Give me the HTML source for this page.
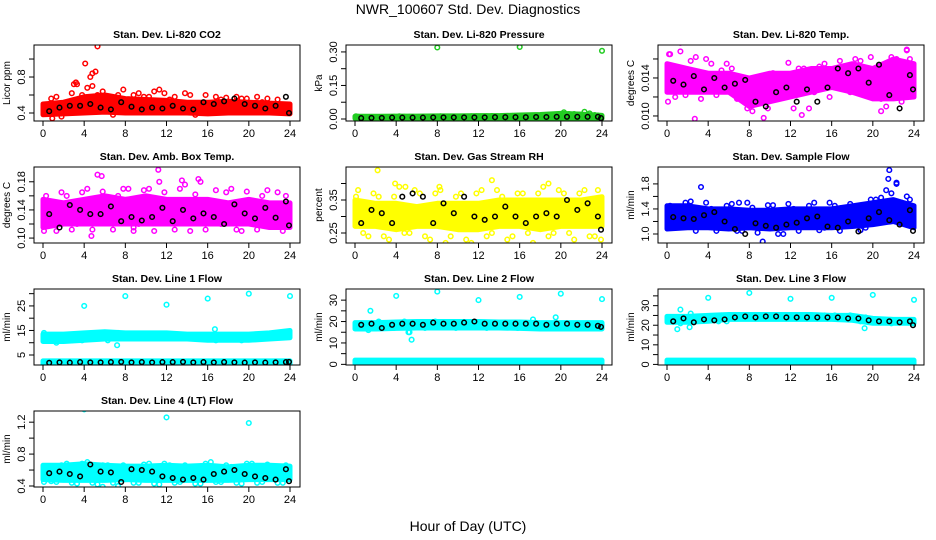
<!DOCTYPE html>
<html><head><meta charset="utf-8">
<style>
html,body{margin:0;padding:0;background:#fff;}
svg{display:block;font-family:"Liberation Sans",Arial,sans-serif;}
</style></head>
<body>
<svg id="chart" width="936" height="540" viewBox="0 0 936 540" xmlns="http://www.w3.org/2000/svg">
<rect width="936" height="540" fill="#fff"/>
<text x="468" y="14" text-anchor="middle" font-size="14">NWR_100607  Std. Dev. Diagnostics</text>
<text x="468" y="531" text-anchor="middle" font-size="14">Hour of Day (UTC)</text>
</svg>
<script>
const bandHours = [0,2,4,6,8,10,12,14,16,18,20,22,24];
const colorHours = [0.3,1.3,2.3,3.3,4.3,5.3,6.3,7.3,8.3,9.3,10.3,11.3,12.3,13.3,14.3,15.3,16.3,17.3,18.3,19.3,20.3,21.3,22.3,23.3,23.9];
const colorHours2 = [0.8,1.8,2.8,3.8,4.8,5.8,6.8,7.8,8.8,9.8,10.8,11.8,12.8,13.8,14.8,15.8,16.8,17.8,18.8,19.8,20.8,21.8,22.8,23.6,0.1];
const blackHours = [0.6,1.6,2.6,3.6,4.6,5.6,6.6,7.6,8.6,9.6,10.6,11.6,12.6,13.6,14.6,15.6,16.6,17.6,18.6,19.6,20.6,21.6,22.6,23.6,23.9];
const xTicks = [0,4,8,12,16,20,24];

// 1 CO2
const co2Lo = [0.38,0.39,0.40,0.41,0.40,0.40,0.40,0.40,0.39,0.40,0.40,0.40,0.39];
const co2Hi = [0.50,0.52,0.58,0.60,0.56,0.55,0.54,0.52,0.52,0.53,0.52,0.51,0.50];
const co2Pts = [0.45,0.58,0.50,0.72,0.68,0.60,0.55,0.60,0.48,0.62,0.58,0.66,0.55,0.50,0.60,0.45,0.44,0.55,0.50,0.56,0.46,0.52,0.50,0.48,0.44];
const co2Pts2 = [0.56,0.36,0.62,0.60,0.70,0.64,0.38,0.66,0.60,0.58,0.64,0.62,0.58,0.62,0.38,0.60,0.58,0.57,0.58,0.56,0.58,0.56,0.55,0.40,0.42];
const co2OutX = [5.3,4.1,4.8,5.1,3.2,0.9,4.6,3.0];
const co2OutY = [1.14,0.95,0.84,0.86,0.74,0.34,0.80,0.72];
const co2Black = [0.42,0.46,0.48,0.48,0.50,0.46,0.44,0.52,0.47,0.44,0.46,0.45,0.48,0.45,0.44,0.52,0.50,0.53,0.56,0.50,0.48,0.45,0.48,0.58,0.40];
// 2 Pressure
const presLo = [0.002,0.002,0.002,0.002,0.002,0.002,0.002,0.002,0.002,0.003,0.003,0.003,0.002];
const presHi = [0.012,0.012,0.013,0.013,0.014,0.014,0.015,0.015,0.018,0.020,0.025,0.022,0.016];
const presPts = [0.010,0.006,0.008,0.009,0.012,0.010,0.008,0.011,0.012,0.009,0.010,0.012,0.011,0.013,0.012,0.014,0.015,0.014,0.016,0.018,0.030,0.022,0.032,0.018,0.010];
const presPts2 = [0.008,0.008,0.009,0.010,0.010,0.009,0.010,0.011,0.010,0.011,0.011,0.012,0.012,0.012,0.013,0.014,0.014,0.014,0.015,0.020,0.022,0.020,0.025,0.015,0.012];
const presOutX = [8.0,16.0,24.0];
const presOutY = [0.320,0.322,0.305];
const presBlack = [0.004,0.005,0.005,0.006,0.006,0.006,0.006,0.007,0.007,0.007,0.007,0.007,0.007,0.008,0.008,0.008,0.008,0.009,0.009,0.010,0.010,0.010,0.010,0.010,0.004];
// 3 Li-820 Temp
const tempLo = [0.0125,0.0125,0.0125,0.0125,0.0110,0.0115,0.0120,0.0125,0.0130,0.0125,0.0118,0.0118,0.0120];
const tempHi = [0.0155,0.0150,0.0145,0.0145,0.0140,0.0145,0.0145,0.0150,0.0150,0.0155,0.0150,0.0160,0.0155];
const tempPts = [0.0165,0.0168,0.0158,0.0118,0.0155,0.0148,0.0150,0.0120,0.0105,0.0132,0.0145,0.0120,0.0108,0.0150,0.0125,0.0155,0.0142,0.0150,0.0160,0.0128,0.0148,0.0110,0.0160,0.0170,0.0135];
const tempPts2 = [0.0120,0.0122,0.0162,0.0160,0.0122,0.0155,0.0118,0.0108,0.0128,0.0108,0.0122,0.0156,0.0150,0.0108,0.0152,0.0120,0.0158,0.0125,0.0158,0.0162,0.0118,0.0162,0.0115,0.0160,0.0115];
const tempOutX = [1.3,2.7,9.4,13.1,23.3,0.2,20.8];
const tempOutY = [0.0177,0.0097,0.0098,0.0101,0.0169,0.0165,0.0105];
const tempBlack = [0.0137,0.0133,0.0142,0.0128,0.0140,0.0130,0.0134,0.0138,0.0115,0.0110,0.0125,0.0130,0.0115,0.0128,0.0115,0.0130,0.0150,0.0145,0.0150,0.0135,0.0154,0.0122,0.0108,0.0143,0.0128];
// 4 Amb Box Temp
const ambLo = [0.115,0.120,0.120,0.120,0.120,0.120,0.120,0.120,0.120,0.120,0.120,0.115,0.115];
const ambHi = [0.155,0.150,0.155,0.160,0.155,0.160,0.155,0.155,0.155,0.150,0.155,0.150,0.150];
const ambPts = [0.160,0.110,0.160,0.120,0.170,0.190,0.130,0.160,0.170,0.120,0.170,0.180,0.150,0.170,0.110,0.180,0.140,0.120,0.170,0.110,0.150,0.160,0.120,0.110,0.130];
const ambPts2 = [0.120,0.165,0.112,0.165,0.112,0.166,0.112,0.170,0.115,0.168,0.110,0.165,0.112,0.176,0.162,0.112,0.168,0.165,0.112,0.166,0.112,0.168,0.165,0.160,0.110];
const ambOutX = [4.7,11.2,8.8,5.7,13.5,15.1];
const ambOutY = [0.103,0.197,0.110,0.188,0.182,0.184];
const ambBlack = [0.134,0.115,0.147,0.140,0.134,0.134,0.145,0.124,0.130,0.125,0.130,0.143,0.124,0.140,0.128,0.135,0.130,0.120,0.148,0.135,0.128,0.143,0.129,0.152,0.118];
// 5 Gas Stream RH
const rhLo = [0.27,0.27,0.26,0.27,0.27,0.26,0.26,0.27,0.27,0.26,0.27,0.27,0.27];
const rhHi = [0.35,0.34,0.34,0.33,0.34,0.34,0.34,0.35,0.35,0.35,0.35,0.35,0.36];
const rhPts = [0.38,0.24,0.36,0.23,0.39,0.25,0.37,0.23,0.38,0.24,0.37,0.22,0.38,0.25,0.36,0.24,0.37,0.22,0.39,0.25,0.37,0.23,0.38,0.24,0.23];
const rhPts2 = [0.25,0.37,0.24,0.36,0.25,0.38,0.24,0.37,0.22,0.36,0.23,0.37,0.24,0.38,0.23,0.37,0.25,0.37,0.24,0.38,0.25,0.37,0.24,0.38,0.36];
const rhOutX = [2.2,3.9,13.3,18.8,8.2,4.9];
const rhOutY = [0.44,0.40,0.41,0.40,0.39,0.39];
const rhBlack = [0.28,0.32,0.31,0.28,0.36,0.37,0.36,0.28,0.34,0.31,0.36,0.30,0.29,0.30,0.33,0.30,0.28,0.30,0.31,0.30,0.35,0.32,0.34,0.30,0.26];
// 6 Sample Flow
const sfLo = [1.08,1.10,1.10,1.08,1.10,1.08,1.10,1.10,1.10,1.12,1.15,1.20,1.10];
const sfHi = [1.45,1.45,1.40,1.40,1.38,1.38,1.40,1.40,1.40,1.45,1.50,1.55,1.45];
const sfPts = [1.45,1.30,1.52,1.20,1.40,1.25,1.48,1.05,1.42,1.15,1.46,1.00,1.40,1.18,1.50,1.10,1.45,1.30,1.40,1.10,1.55,1.70,1.80,1.60,1.20];
const sfPts2 = [1.15,1.50,1.05,1.50,1.05,1.45,1.05,1.50,1.02,1.46,1.00,1.48,1.05,1.45,1.06,1.50,1.05,1.48,1.06,1.55,1.58,1.65,1.50,1.55,1.40];
const sfOutX = [21.6,21.5,3.3,9.3,22.3,7.0];
const sfOutY = [2.02,1.88,1.75,0.88,1.82,1.50];
const sfBlack = [1.27,1.25,1.24,1.30,1.35,1.20,1.08,1.00,1.17,1.13,1.10,1.15,1.18,1.25,1.28,1.12,1.10,1.20,1.04,1.25,1.35,1.22,1.15,1.38,1.05];
// 7 Line 1 Flow
const l1Lo = [10.5,10.5,11.0,11.5,11.5,11.5,11.5,11.5,11.0,11.0,11.0,11.5,12.0];
const l1Hi = [13.5,13.5,14.0,14.5,14.0,14.0,14.0,13.5,13.5,13.5,13.5,14.0,15.0];
const l1Low2Lo = [0.9,0.9,0.9,0.9,0.9,0.9,0.9,0.9,0.9,0.9,0.9,0.9,0.9];
const l1Low2Hi = [2.6,2.6,2.6,2.6,2.6,2.6,2.6,2.6,2.6,2.6,2.6,2.6,2.6];
const l1Pts = [12,11,12,13,12,12,11,14,12,12,13,13,12,12,13,12,12,12,12,11,13,13,12,14,13];
const l1Pts2 = [13,12,11,12,13,13,12,13,13,12,12,12,13,13,12,13,11,13,12,12,12,12,13,13,14];
const l1OutX = [4,8,12,16,20,24,1.3,7.2,16.7,3.8];
const l1OutY = [25,29,25.5,28,30,29,10,9,15.5,11];
const l1Black = [1.8,2.0,1.9,2.1,2.0,2.0,2.1,2.2,2.0,2.1,2.0,2.1,2.1,2.2,2.0,2.1,2.0,2.1,2.0,1.9,2.0,1.9,2.0,2.1,2.2];
// 8 Line 2 Flow
const l2Lo = [16.5,16.5,16.8,17.0,17.0,17.0,17.0,17.0,16.8,16.5,16.5,16.5,16.5];
const l2Hi = [19.5,19.5,19.8,20.0,20.0,20.0,20.0,19.8,19.8,19.5,19.5,19.5,19.5];
const l2Low2Lo = [0.4,0.4,0.4,0.4,0.4,0.4,0.4,0.4,0.4,0.4,0.4,0.4,0.4];
const l2Low2Hi = [2.0,2.0,2.0,2.0,2.0,2.0,2.0,2.0,2.0,2.0,2.0,2.0,2.0];
const l2Pts = [17,16,20,19,18,15,18,19,18,19,19,18,19,18,18,19,19,21,19,18,19,18,18,19,17];
const l2Pts2 = [18,17,18,17,20,18,17,20,18,17,18,19,17,18,19,17,18,17,18,17,17,18,17,18,18];
const l2OutX = [1.5,4,8,12,16,20,24,5.5,5.2,19.5];
const l2OutY = [25,32,34,30,31.5,33,30.5,11.5,15,22];
const l2Black = [18.5,19.0,17.0,18.5,19.0,19.0,18.5,19.5,19.0,19.0,19.5,20.0,19.0,19.0,19.0,19.0,19.0,19.0,18.5,19.0,19.0,18.5,18.5,18.0,17.5];
// 9 Line 3 Flow
const l3Lo = [21.5,21.5,22.0,23.0,23.0,23.0,23.0,23.0,23.0,22.5,21.0,21.0,21.0];
const l3Hi = [24.5,24.5,25.0,25.5,25.5,25.5,25.5,25.5,25.0,25.0,23.5,23.0,23.0];
const l3Low2Lo = [0.3,0.3,0.3,0.3,0.3,0.3,0.3,0.3,0.3,0.3,0.3,0.3,0.3];
const l3Low2Hi = [2.2,2.2,2.2,2.2,2.2,2.2,2.2,2.2,2.2,2.2,2.2,2.2,2.2];
const l3Pts = [23,21,22,24,23,25,24,24,25,24,24,24,24,24,24,25,25,24,24,24,22,22,22,22,21];
const l3Pts2 = [24,22,23,23,24,22,24,25,24,25,24,25,24,25,24,24,24,25,22,23,22,21,22,22,22];
const l3OutX = [1.3,4,8,12,16,20,24,1.0,2.2,19.2,2.3,5.0];
const l3OutY = [28,34,36.5,33.5,34,35.5,33,18,19,18.5,26,22];
const l3Black = [22.0,23.5,21.5,23.0,22.5,23.0,24.0,24.5,24.0,24.5,24.5,24.0,24.0,24.0,24.0,24.0,24.0,23.5,23.5,22.5,22.0,22.0,21.5,22.0,20.0];
// 10 Line 4 (LT) Flow
const l4Lo = [0.48,0.47,0.47,0.47,0.48,0.47,0.47,0.47,0.47,0.47,0.48,0.48,0.48];
const l4Hi = [0.66,0.66,0.68,0.66,0.65,0.65,0.66,0.65,0.66,0.64,0.66,0.66,0.65];
const l4Pts = [0.62,0.45,0.68,0.43,0.70,0.42,0.66,0.40,0.64,0.44,0.68,0.42,0.66,0.45,0.64,0.43,0.70,0.45,0.64,0.43,0.68,0.45,0.65,0.44,0.62];
const l4Pts2 = [0.46,0.66,0.44,0.68,0.44,0.66,0.44,0.66,0.44,0.67,0.43,0.68,0.44,0.66,0.43,0.68,0.45,0.66,0.44,0.68,0.44,0.67,0.44,0.66,0.45];
const l4OutX = [4,12,20,5.8,7.3];
const l4OutY = [1.36,1.26,1.19,0.39,0.40];
const l4Black = [0.56,0.58,0.55,0.52,0.67,0.58,0.57,0.45,0.61,0.60,0.58,0.52,0.50,0.48,0.50,0.48,0.55,0.58,0.60,0.55,0.52,0.50,0.48,0.61,0.46];

const NS = "http://www.w3.org/2000/svg";
const svg = document.getElementById('chart');
function el(tag, attrs, parent){ const e=document.createElementNS(NS,tag); for(const k in attrs) e.setAttribute(k,attrs[k]); (parent||svg).appendChild(e); return e; }

const panels = [
 {name:'co2',title:'Stan. Dev. Li-820 CO2',ylab:'Licor ppm',col:0,row:0,color:'#ff0000',dom:[0.311,1.156],ticks:[0.4,0.6,0.8,1.0],labels:['0.4','','0.8',''],lo:co2Lo,hi:co2Hi,pts:co2Pts,pts2:co2Pts2,ox:co2OutX,oy:co2OutY,blk:co2Black},
 {name:'pressure',title:'Stan. Dev. Li-820 Pressure',ylab:'kPa',col:1,row:0,color:'#22cc22',dom:[-0.009,0.331],ticks:[0,0.075,0.15,0.225,0.30],labels:['0.00','','0.15','','0.30'],lo:presLo,hi:presHi,pts:presPts,pts2:presPts2,ox:presOutX,oy:presOutY,blk:presBlack},
 {name:'li820-temp',title:'Stan. Dev. Li-820 Temp.',ylab:'degrees C',col:2,row:0,color:'#ff00ff',dom:[0.00947,0.01747],ticks:[0.010,0.012,0.014,0.016],labels:['0.010','','0.014',''],lo:tempLo,hi:tempHi,pts:tempPts,pts2:tempPts2,ox:tempOutX,oy:tempOutY,blk:tempBlack},
 {name:'amb-box-temp',title:'Stan. Dev. Amb. Box Temp.',ylab:'degrees C',col:0,row:1,color:'#ff00ff',dom:[0.093,0.201],ticks:[0.10,0.12,0.14,0.16,0.18],labels:['0.10','','0.14','','0.18'],lo:ambLo,hi:ambHi,pts:ambPts,pts2:ambPts2,ox:ambOutX,oy:ambOutY,blk:ambBlack},
 {name:'gas-stream-rh',title:'Stan. Dev. Gas Stream RH',ylab:'percent',col:1,row:1,color:'#ffff00',dom:[0.2197,0.45],ticks:[0.25,0.30,0.35,0.40],labels:['0.25','','0.35',''],lo:rhLo,hi:rhHi,pts:rhPts,pts2:rhPts2,ox:rhOutX,oy:rhOutY,blk:rhBlack},
 {name:'sample-flow',title:'Stan. Dev. Sample Flow',ylab:'ml/min',col:2,row:1,color:'#0000ff',dom:[0.856,2.07],ticks:[1.0,1.2,1.4,1.6,1.8],labels:['1.0','','1.4','','1.8'],lo:sfLo,hi:sfHi,pts:sfPts,pts2:sfPts2,ox:sfOutX,oy:sfOutY,blk:sfBlack},
 {name:'line1-flow',title:'Stan. Dev. Line 1 Flow',ylab:'ml/min',col:0,row:2,color:'#00ffff',dom:[0.92,31.9],ticks:[5,10,15,20,25,30],labels:['5','','15','','25',''],lo:l1Lo,hi:l1Hi,lo2:l1Low2Lo,hi2:l1Low2Hi,pts:l1Pts,pts2:l1Pts2,ox:l1OutX,oy:l1OutY,blk:l1Black},
 {name:'line2-flow',title:'Stan. Dev. Line 2 Flow',ylab:'ml/min',col:1,row:2,color:'#00ffff',dom:[-0.3,35.2],ticks:[0,5,10,15,20,25,30],labels:['0','','10','','20','','30'],lo:l2Lo,hi:l2Hi,lo2:l2Low2Lo,hi2:l2Low2Hi,pts:l2Pts,pts2:l2Pts2,ox:l2OutX,oy:l2OutY,blk:l2Black},
 {name:'line3-flow',title:'Stan. Dev. Line 3 Flow',ylab:'ml/min',col:2,row:2,color:'#00ffff',dom:[-0.3,38.5],ticks:[0,5,10,15,20,25,30,35],labels:['0','','10','','20','','30',''],lo:l3Lo,hi:l3Hi,lo2:l3Low2Lo,hi2:l3Low2Hi,pts:l3Pts,pts2:l3Pts2,ox:l3OutX,oy:l3OutY,blk:l3Black},
 {name:'line4-flow',title:'Stan. Dev. Line 4 (LT) Flow',ylab:'ml/min',col:0,row:3,color:'#00ffff',dom:[0.3875,1.34],ticks:[0.4,0.6,0.8,1.0,1.2],labels:['0.4','','0.8','','1.2'],lo:l4Lo,hi:l4Hi,pts:l4Pts,pts2:l4Pts2,ox:l4OutX,oy:l4OutY,blk:l4Black}
];

function circle(g,x,y,color,name){
  const c=el('circle',{cx:x.toFixed(1),cy:y.toFixed(1),r:2.3,fill:'none',stroke:color,'stroke-width':1.5},g);
  
  
}

panels.forEach(p=>{
  const L=34+312*p.col, R=L+266, T=45+122*p.row, B=T+76;
  const x0=L+9, x1=R-10;
  const xs=h=>x0+(x1-x0)*h/24;
  const ys=v=>B-(v-p.dom[0])/(p.dom[1]-p.dom[0])*(B-T);
  const g=el('g',{});
  
  
  const t=el('text',{x:(L+R)/2,y:T-7,'text-anchor':'middle','font-size':10.5,'font-weight':'bold'},g); t.textContent=p.title;
  
  
  const cid='clip-'+p.name;
  const cp=el('clipPath',{id:cid},g); el('rect',{x:L,y:T,width:R-L,height:B-T},cp);
  const pg=el('g',{'clip-path':'url(#'+cid+')'},g);
  
  
  function band(lo,hi,nm){
    let d='M'+bandHours.map((h,i)=>xs(h).toFixed(1)+','+ys(hi[i]).toFixed(1)).join('L');
    d+='L'+bandHours.slice().reverse().map((h,j)=>{const i=bandHours.length-1-j;return xs(h).toFixed(1)+','+ys(lo[i]).toFixed(1);}).join('L')+'Z';
    const b=el('path',{d:d,fill:p.color,stroke:p.color,'stroke-width':5,'stroke-linejoin':'round'},pg);
    
    
  }
  band(p.lo,p.hi,p.name+'-dense-band');
  if(p.lo2) band(p.lo2,p.hi2,p.name+'-low-band');
  p.pts.forEach((v,i)=>circle(pg,xs(colorHours[i]),ys(v),p.color,p.name+'-point'));
  p.pts2.forEach((v,i)=>circle(pg,xs(colorHours2[i]),ys(v),p.color,p.name+'-point'));
  p.ox.forEach((h,i)=>circle(pg,xs(h),ys(p.oy[i]),p.color,p.name+'-outlier'));
  p.blk.forEach((v,i)=>circle(pg,xs(blackHours[i]),ys(v),'#000',p.name+'-black-point'));
  const box=el('rect',{x:L,y:T,width:R-L,height:B-T,fill:'none',stroke:'#000','stroke-width':1},g);
  
  
  xTicks.forEach(h=>{
    el('line',{x1:xs(h),x2:xs(h),y1:B,y2:B+5,stroke:'#000'},g);
    const tl=el('text',{x:xs(h),y:B+16,'text-anchor':'middle','font-size':11},g); tl.textContent=h;
    
    
  });
  p.ticks.forEach((v,i)=>{
    const y=ys(v);
    el('line',{x1:L-5,x2:L,y1:y,y2:y,stroke:'#000'},g);
    if(p.labels[i]){
      const tl=el('text',{x:L-9,y:y,'text-anchor':'middle','font-size':11,transform:'rotate(-90 '+(L-9)+' '+y+')'},g);
      tl.textContent=p.labels[i];
      
      
    }
  });
  const yl=el('text',{x:L-24,y:(T+B)/2,'text-anchor':'middle','font-size':10,transform:'rotate(-90 '+(L-24)+' '+((T+B)/2)+')'},g);
  yl.textContent=p.ylab;
  
  
});
</script>
</body></html>
